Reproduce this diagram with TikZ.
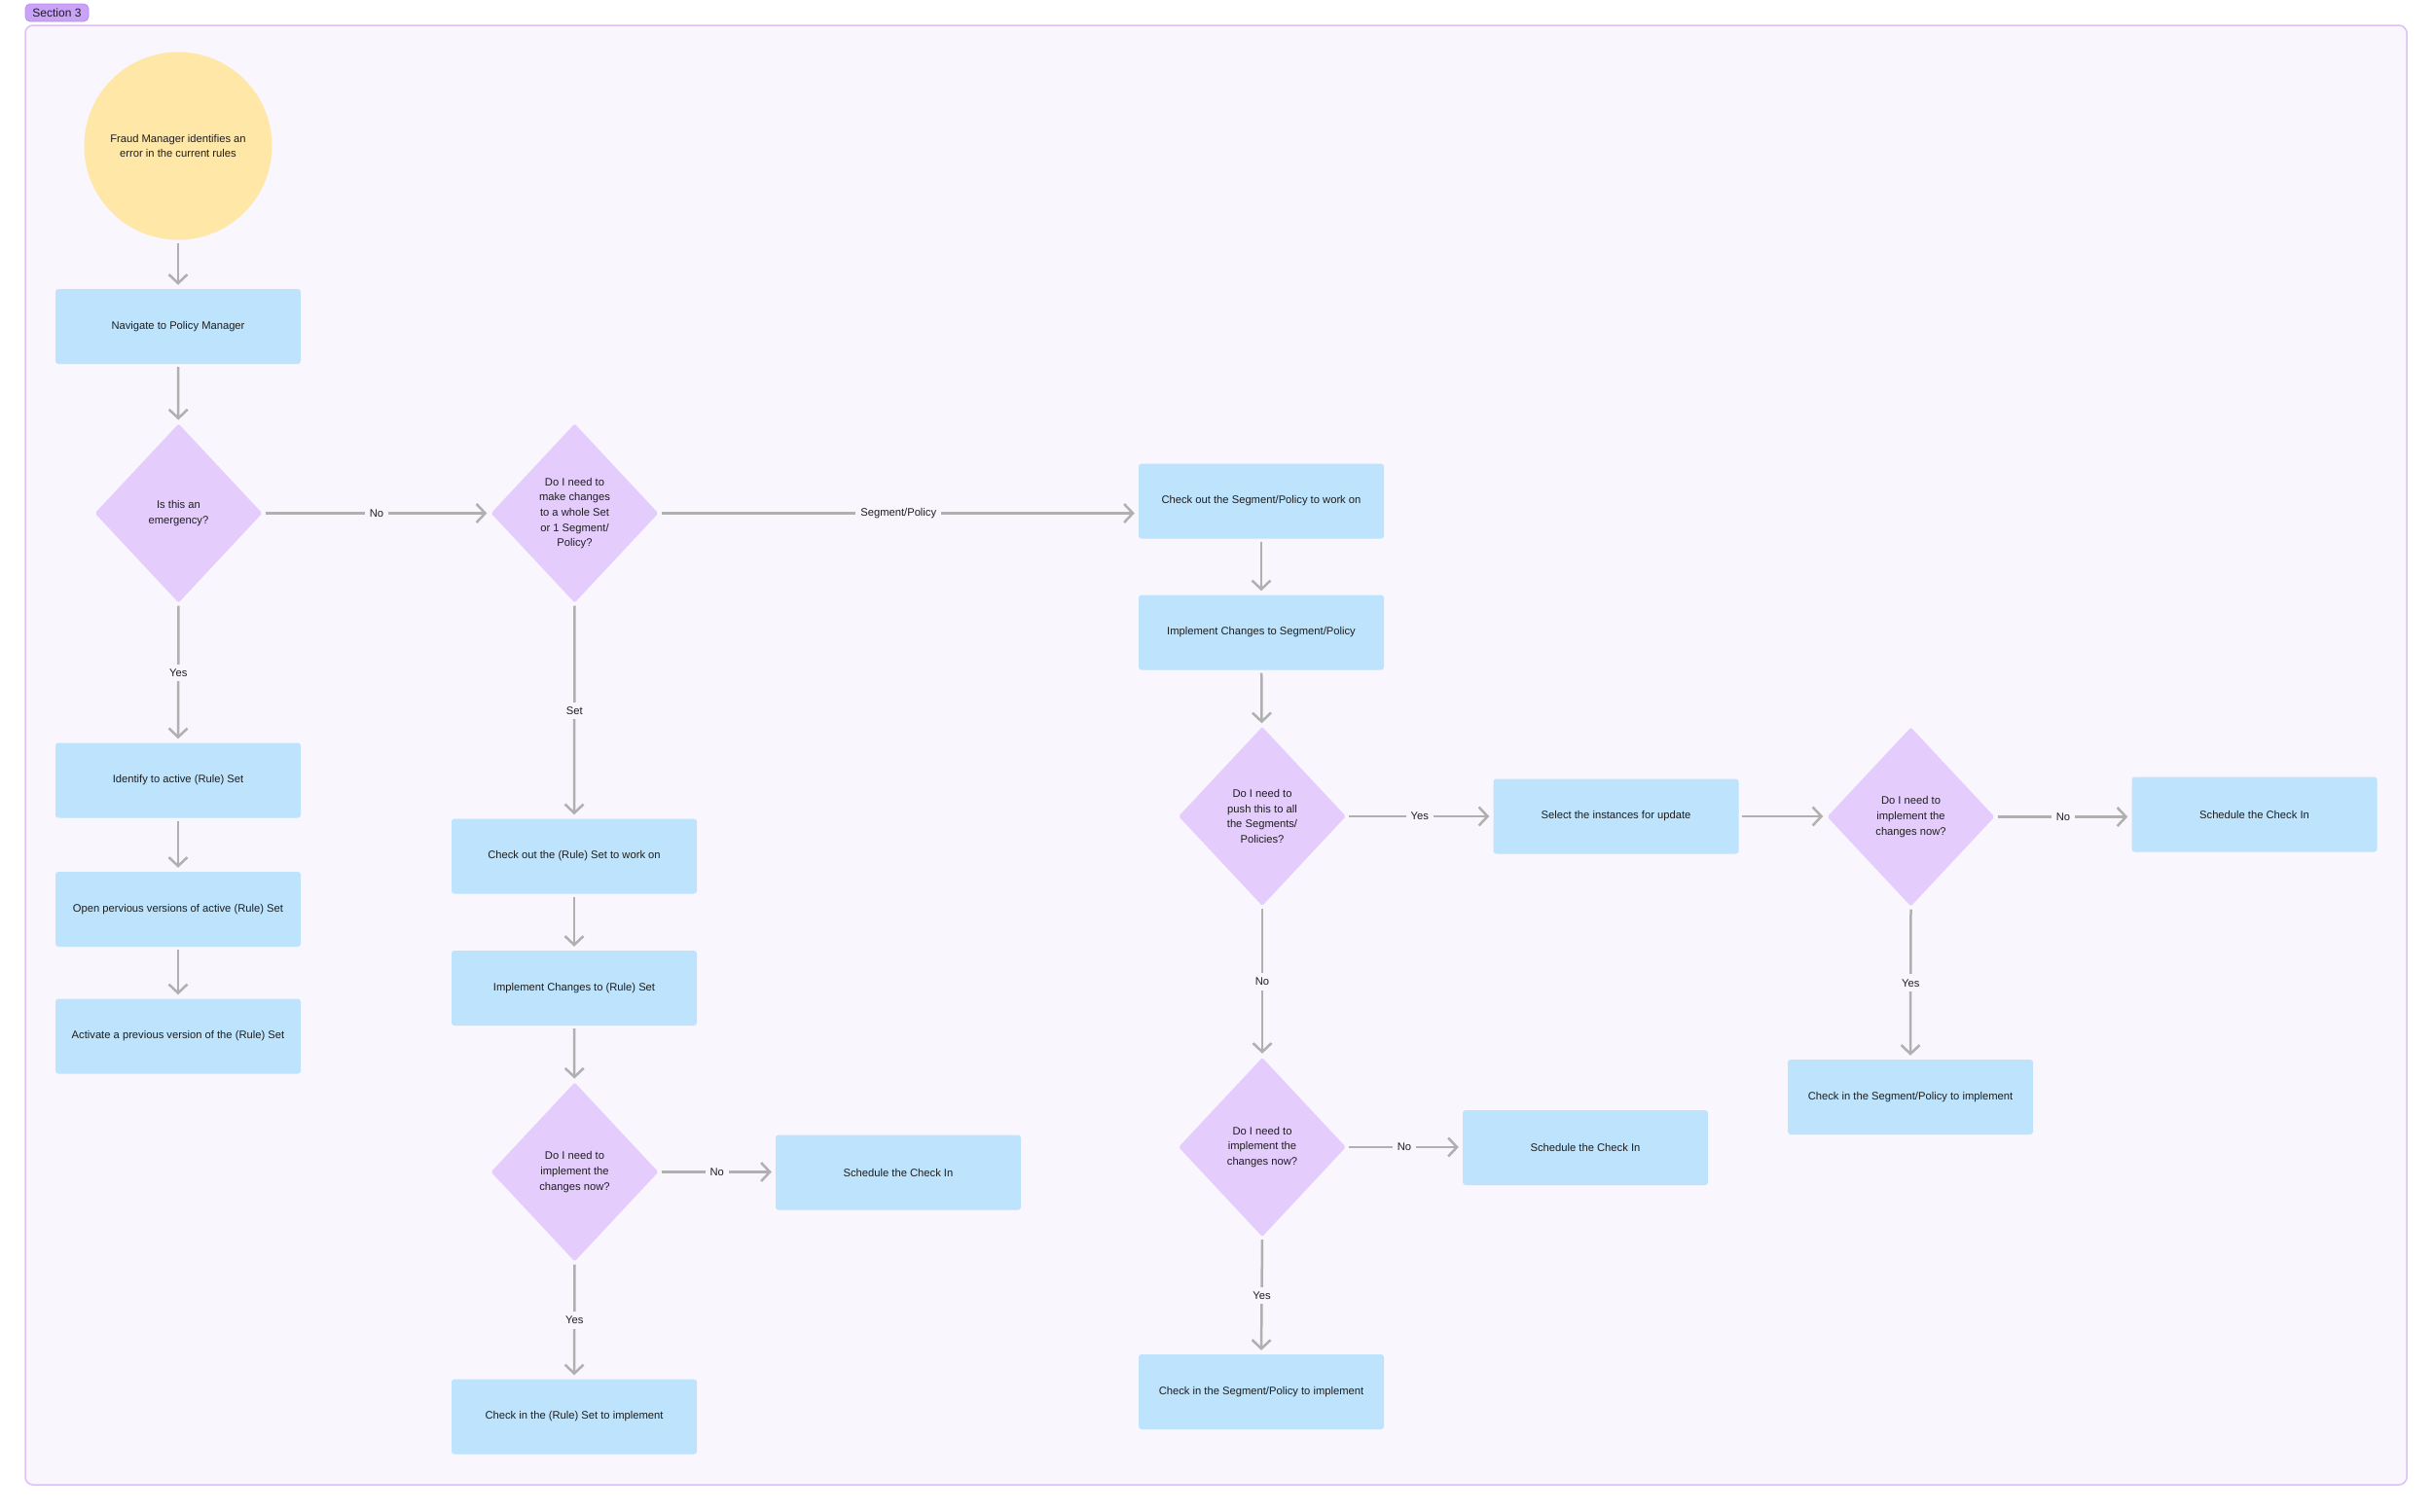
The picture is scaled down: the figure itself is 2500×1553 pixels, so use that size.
\documentclass[tikz,border=0pt]{standalone}
\usepackage{fontspec}
\setmainfont{Liberation Sans}
\usetikzlibrary{shapes.geometric,arrows.meta}
\definecolor{frameFill}{HTML}{F9F6FE}
\definecolor{frameLine}{HTML}{DCC0F7}
\definecolor{tagFill}{HTML}{C9A3F7}
\definecolor{tagLine}{HTML}{B98DF0}
\definecolor{startFill}{HTML}{FFE7A8}
\definecolor{boxFill}{HTML}{BDE3FD}
\definecolor{askFill}{HTML}{E4CCFD}
\definecolor{flowLine}{HTML}{B0B0B0}
\definecolor{inkText}{HTML}{1E1E1E}

\begin{document}
\begin{tikzpicture}[x=1pt, y=-1pt, font=\fontsize{11.2}{15.6}\selectfont, text=inkText,
	task/.style={rectangle, rounded corners=3pt, fill=boxFill, minimum width=252pt, minimum height=77pt, align=center, inner sep=0pt},
	ask/.style={diamond, rounded corners=2pt, fill=askFill, minimum width=172pt, minimum height=184pt, align=center, inner sep=0pt},
	flow/.style={draw=flowLine, line width=2.5pt, -{Straight Barb[length=9pt, width=19pt]}, shorten <=3pt, shorten >=4pt},
	answer/.style={fill=frameFill, inner sep=5pt, text=inkText}]
	% page and section frame
	\fill[white] (0,0) rectangle (2500,1553);
	\useasboundingbox (0,0) rectangle (2500,1553);
	\draw[draw=frameLine, fill=frameFill, line width=1.5pt, rounded corners=8pt] (26,26) rectangle (2473,1526);
	\node[fill=tagFill, draw=tagLine, line width=0.8pt, rounded corners=5pt, minimum width=65pt, minimum height=18pt, inner sep=0pt, font=\fontsize{12}{14}\selectfont] (sectag) at (58.5,13) {Section 3};

	% left column
	\node[circle, fill=startFill, minimum size=193pt, align=center] (start) at (183,150) {Fraud Manager identifies an\\error in the current rules};
	\node[task] (nav) at (183,335.5) {Navigate to Policy Manager};
	\node[ask] (qEmerg) at (183.5,527.5) {Is this an\\emergency?};
	\node[task] (identify) at (183,802) {Identify to active (Rule) Set};
	\node[task] (openPrev) at (183,934.5) {Open pervious versions of active (Rule) Set};
	\node[task] (activate) at (183,1065) {Activate a previous version of the (Rule) Set};

	% rule set branch
	\node[ask] (qScope) at (590.5,527.5) {Do I need to\\make changes\\to a whole Set\\or 1 Segment/\\Policy?};
	\node[task] (setOut) at (590,880) {Check out the (Rule) Set to work on};
	\node[task] (setImpl) at (590,1015.5) {Implement Changes to (Rule) Set};
	\node[ask] (setNow) at (590.5,1204.5) {Do I need to\\implement the\\changes now?};
	\node[task] (setSched) at (923,1205) {Schedule the Check In};
	\node[task] (setIn) at (590,1456) {Check in the (Rule) Set to implement};

	% segment/policy branch
	\node[task] (segOut) at (1296,515) {Check out the Segment/Policy to work on};
	\node[task] (segImpl) at (1296,650) {Implement Changes to Segment/Policy};
	\node[ask] (qPush) at (1297,839) {Do I need to\\push this to all\\the Segments/\\Policies?};
	\node[task] (pick) at (1660.5,839) {Select the instances for update};
	\node[ask] (allNow) at (1963.5,839.5) {Do I need to\\implement the\\changes now?};
	\node[task] (allSched) at (2316.5,837) {Schedule the Check In};
	\node[task] (allIn) at (1963,1127.5) {Check in the Segment/Policy to implement};
	\node[ask] (segNow) at (1297,1179) {Do I need to\\implement the\\changes now?};
	\node[task] (segSched) at (1629,1179.5) {Schedule the Check In};
	\node[task] (segIn) at (1296,1430.5) {Check in the Segment/Policy to implement};

	% connectors
	\draw[flow] (start) -- (nav);
	\draw[flow] (nav) -- (qEmerg);
	\draw[flow] (qEmerg.east) -- node[answer] {No} (qScope.west);
	\draw[flow] (qEmerg.south) -- node[answer] {Yes} (identify.north);
	\draw[flow] (identify) -- (openPrev);
	\draw[flow] (openPrev) -- (activate);
	\draw[flow] (qScope.east) -- node[answer] {Segment/Policy} (qScope.east -| segOut.west);
	\draw[flow] (qScope.south) -- node[answer] {Set} (setOut.north);
	\draw[flow] (setOut) -- (setImpl);
	\draw[flow] (setImpl) -- (setNow);
	\draw[flow] (setNow.east) -- node[answer] {No} (setNow.east -| setSched.west);
	\draw[flow] (setNow.south) -- node[answer] {Yes} (setIn.north);
	\draw[flow] (segOut) -- (segImpl);
	\draw[flow] (segImpl) -- (qPush);
	\draw[flow] (qPush.east) -- node[answer] {Yes} (pick.west);
	\draw[flow] (pick.east) -- (pick.east -| allNow.west);
	\draw[flow] (allNow.east) -- node[answer] {No} (allNow.east -| allSched.west);
	\draw[flow] (allNow.south) -- node[answer] {Yes} (allIn.north);
	\draw[flow] (qPush.south) -- node[answer] {No} (qPush.south |- segNow.north);
	\draw[flow] (segNow.east) -- node[answer] {No} (segNow.east -| segSched.west);
	\draw[flow] (segNow.south) -- node[answer] {Yes} (segIn.north);
\end{tikzpicture}
\end{document}
